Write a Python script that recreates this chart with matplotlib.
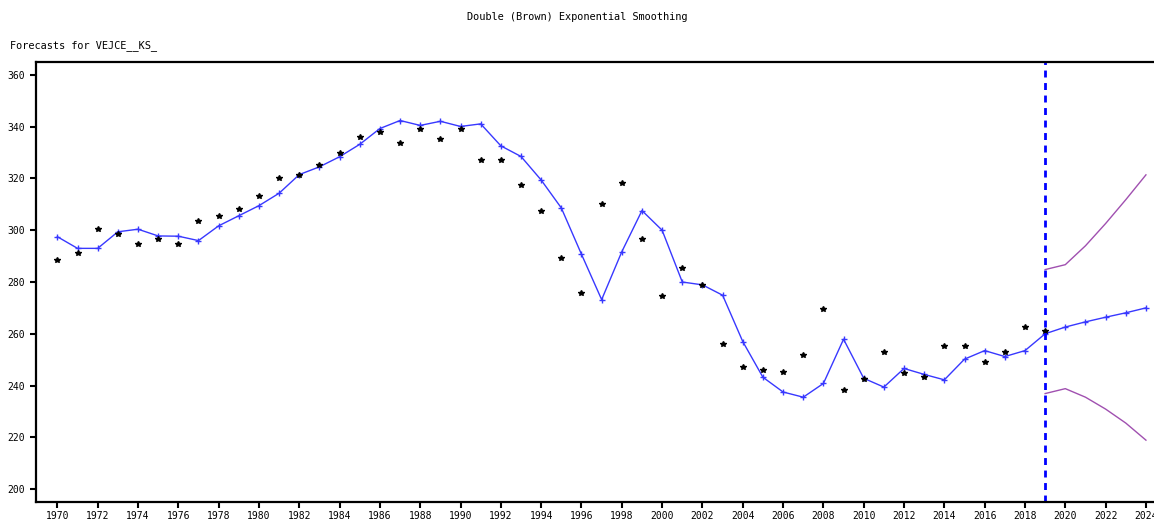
import numpy as np
import matplotlib as mpl
mpl.use('Agg')
import matplotlib.pyplot as plt

# years of the sample and forecast
years = list(range(1970, 2020))
fc_years = list(range(2019, 2025))

# actual values (black stars)
actual = [288.5, 291.3, 300.4, 298.7, 294.5, 296.6, 294.5, 303.6, 305.5, 308.3,
          313.4, 320.2, 321.5, 325.3, 330.0, 336.0, 338.1, 333.8, 339.2, 335.1,
          339.2, 327.2, 327.2, 317.5, 307.6, 289.4, 275.6, 310.3, 318.3, 296.5,
          274.7, 285.4, 279.0, 256.0, 247.0, 246.0, 245.3, 251.9, 269.6, 238.1,
          242.4, 253.0, 245.0, 243.3, 255.1, 255.1, 249.1, 253.0, 262.6, 261.0]

# fitted values (blue line with +)
fitted = [297.5, 293.0, 293.0, 299.4, 300.4, 297.8, 297.7, 296.0, 301.7, 305.6,
          309.5, 314.3, 321.5, 324.5, 328.4, 333.2, 339.3, 342.4, 340.5, 342.1,
          340.1, 341.1, 332.6, 328.5, 319.4, 308.6, 290.7, 273.2, 291.7, 307.6,
          300.0, 280.0, 278.9, 274.9, 257.0, 243.2, 237.5, 235.5, 240.8, 257.9,
          242.8, 239.4, 246.6, 244.3, 242.2, 250.2, 253.5, 251.2, 253.5, 260.0]

# forecast and bounds
forecast = [260.0, 262.6, 264.6, 266.4, 268.1, 270.0]
upper = [284.8, 286.7, 294.0, 302.6, 311.8, 321.4]
lower = [236.9, 238.8, 235.5, 230.9, 225.5, 218.9]

mono = 'DejaVu Sans Mono'
plt.rcParams['font.family'] = mono

fig = plt.figure(figsize=(11.54, 5.22), dpi=100)
ax = fig.add_axes([0.0312, 0.0378, 0.9688, 0.8434])

blue = '#3838ff'
ax.plot(years + fc_years[1:], fitted + forecast[1:], color=blue, lw=1.0,
        marker='+', ms=5, mew=1.0)
ax.plot(years, actual, ls='none', marker='*', color='black', ms=3.8)
ax.plot(fc_years, upper, color='#a050b0', lw=1.0)
ax.plot(fc_years, lower, color='#a050b0', lw=1.0)
ax.axvline(2019, color='#0000ff', lw=2.0, dashes=(2.5, 2))

ax.set_xlim(1968.94, 2024.4)
ax.set_ylim(194.9, 365)
ax.set_xticks(range(1970, 2025, 2))
ax.set_yticks(range(200, 361, 20))
ax.tick_params(direction='out', length=4, width=1.5, labelsize=7.0,
               colors='black', pad=2.5)
ax.tick_params(axis='y', pad=4)
for s in ['left', 'bottom', 'top']:
    ax.spines[s].set_linewidth(1.6)
ax.spines['right'].set_visible(False)

fig.text(0.5, 0.967, 'Double (Brown) Exponential Smoothing', ha='center',
         va='center', fontsize=7.4)
fig.text(0.0087, 0.913, 'Forecasts for VEJCE__KS_', ha='left', va='center',
         fontsize=7.4)

fig.savefig('out.png', dpi=100)
